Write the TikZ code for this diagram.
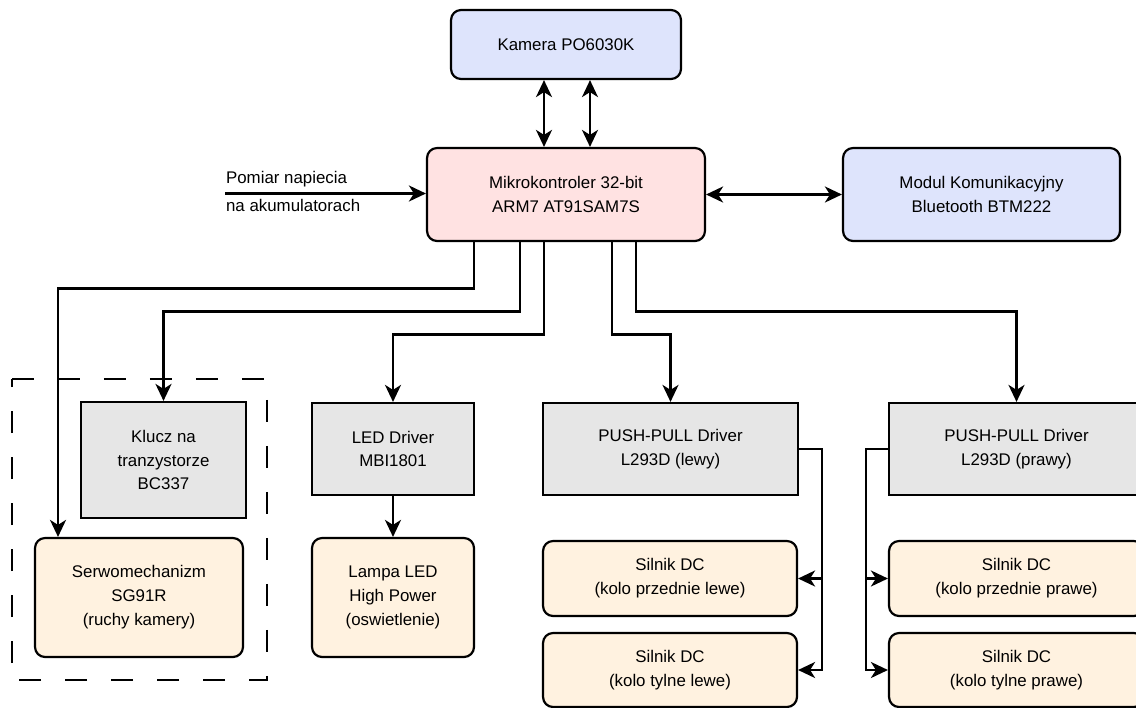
\documentclass[tikz,border=0pt]{standalone}
\usepackage{fontspec}
\setmainfont{Liberation Sans}
\usetikzlibrary{arrows.meta}

\definecolor{niebieski}{RGB}{222,228,252}
\definecolor{rozowy}{RGB}{255,226,226}
\definecolor{szary}{RGB}{230,230,230}
\definecolor{bezowy}{RGB}{255,242,224}

\tikzset{
  blok/.style={draw, align=center, inner sep=0pt,
    font=\fontsize{9.6}{13.6}\selectfont},
  zaokr/.style={blok, rounded corners=0.2cm},
  opis/.style={inner sep=0pt, font=\fontsize{9.6}{13.6}\selectfont},
  strz/.style={line width=1.45pt, -{Stealth[length=0.34cm,width=0.32cm,inset=0.1cm]}},
  dwustrz/.style={line width=1.45pt, {Stealth[length=0.34cm,width=0.32cm,inset=0.1cm]}-{Stealth[length=0.34cm,width=0.32cm,inset=0.1cm]}},
}

\begin{document}
\begin{tikzpicture}[x=0.02cm, y=-0.02cm, line width=1.25pt]
\useasboundingbox (0,0) rectangle (1136,707);

% gora
\node[zaokr, fill=niebieski, minimum width=4.6cm, minimum height=1.38cm] (kamera) at (566,44.5) {Kamera PO6030K};
\node[zaokr, fill=rozowy, minimum width=5.56cm, minimum height=1.86cm] (mcu) at (566,194.5) {Mikrokontroler 32-bit\\ARM7 AT91SAM7S};
\node[zaokr, fill=niebieski, minimum width=5.54cm, minimum height=1.86cm] (bt) at (981.5,194.5) {Modul Komunikacyjny\\Bluetooth BTM222};

% pomiar
\coordinate (pom) at (225,193.5);
\node[opis, anchor=base west] (pom1) at (225,183) {Pomiar napiecia};
\node[opis, anchor=base west] (pom2) at (225,211) {na akumulatorach};
\draw[strz] (pom) -- (pom -| mcu.west);

\draw[dwustrz] ([xshift=-0.44cm]kamera.south) -- ([xshift=-0.44cm]mcu.north);
\draw[dwustrz] ([xshift=0.48cm]kamera.south) -- ([xshift=0.48cm]mcu.north);
\draw[dwustrz] (mcu.east) -- (bt.west);

% sterowniki
\node[blok, fill=szary, minimum width=3.3cm, minimum height=2.32cm] (klucz) at (163.5,460) {Klucz na\\tranzystorze\\BC337};
\node[blok, fill=szary, minimum width=3.24cm, minimum height=1.84cm] (led) at (393,449) {LED Driver\\MBI1801};
\node[blok, fill=szary, minimum width=5.1cm, minimum height=1.84cm] (ppl) at (670.5,449) {PUSH-PULL Driver\\L293D (lewy)};
\node[blok, fill=szary, minimum width=5.1cm, minimum height=1.84cm] (ppr) at (1016.5,449) {PUSH-PULL Driver\\L293D (prawy)};

% wykonawcze
\node[zaokr, fill=bezowy, minimum width=4.16cm, minimum height=2.38cm] (serwo) at (139,597.5) {Serwomechanizm\\SG91R\\(ruchy kamery)};
\node[zaokr, fill=bezowy, minimum width=3.24cm, minimum height=2.38cm] (lampa) at (393,597.5) {Lampa LED\\High Power\\(oswietlenie)};
\node[zaokr, fill=bezowy, minimum width=5.08cm, minimum height=1.5cm] (sl1) at (670,578.5) {Silnik DC\\(kolo przednie lewe)};
\node[zaokr, fill=bezowy, minimum width=5.08cm, minimum height=1.48cm] (sl2) at (670,670) {Silnik DC\\(kolo tylne lewe)};
\node[zaokr, fill=bezowy, minimum width=5.1cm, minimum height=1.5cm] (sr1) at (1016.5,578.5) {Silnik DC\\(kolo przednie prawe)};
\node[zaokr, fill=bezowy, minimum width=5.1cm, minimum height=1.48cm] (sr2) at (1016.5,670) {Silnik DC\\(kolo tylne prawe)};

% ramka serwa
\draw[dash pattern=on 0.45cm off 0.47cm] (12,379) -- (267,379) -- (267,680) -- (12,680) -- cycle;

% z mikrokontrolera
\draw[strz] ([xshift=-1.84cm]mcu.south) -- ++(0,46.3) -| ([xshift=-1.62cm]serwo.north);
\draw[strz] ([xshift=-0.92cm]mcu.south) -- ++(0,69.3) -| (klucz.north);
\draw[strz] ([xshift=-0.44cm]mcu.south) -- ++(0,92.3) -| (led.north);
\draw[strz] ([xshift=0.92cm]mcu.south) -- ++(0,92.3) -| (ppl.north);
\draw[strz] ([xshift=1.4cm]mcu.south) -- ++(0,69.3) -| (ppr.north);

\draw[strz] (led) -- (lampa);
\draw[strz] (ppl.east) -- ++(23,0) |- (sl1.east);
\draw[strz] (ppl.east) -- ++(23,0) |- (sl2.east);
\draw[strz] (ppr.west) -- ++(-22,0) |- (sr1.west);
\draw[strz] (ppr.west) -- ++(-22,0) |- (sr2.west);
\end{tikzpicture}
\end{document}
